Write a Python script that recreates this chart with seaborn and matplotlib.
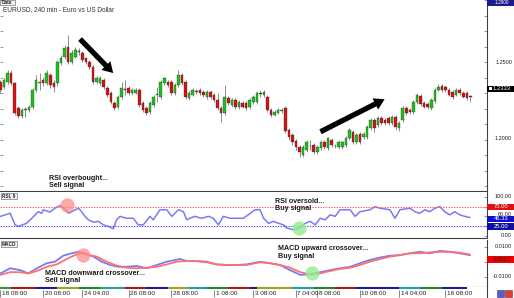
import numpy as np
import matplotlib
matplotlib.use("Agg")
import matplotlib.pyplot as plt
import matplotlib.patches as mpatches
import seaborn as sns

# ---------------- data ----------------
opens = [1.2371,1.2339,1.2371,1.2429,1.2365,1.2203,1.2152,1.2190,1.2190,1.2210,
         1.2319,1.2365,1.2384,1.2365,1.2416,1.2365,1.2365,1.2494,1.2532,1.2597,
         1.2500,1.2532,1.2571,1.2558,1.2526,1.2500,1.2468,1.2371,1.2365,1.2384,
         1.2332,1.2300,1.2235,1.2210,1.2274,1.2326,1.2332,1.2300,1.2300,1.2319,
         1.2235,1.2203,1.2177,1.2223,1.2287,1.2274,1.2365,1.2371,1.2371,1.2300,
         1.2352,1.2416,1.2371,1.2268,1.2287,1.2313,1.2319,1.2306,1.2274,1.2306,
         1.2287,1.2255,1.2203,1.2171,1.2268,1.2223,1.2255,1.2210,1.2235,1.2235,
         1.2210,1.2242,1.2242,1.2300,1.2287,1.2274,1.2190,1.2158,1.2171,1.2184,
         1.2203,1.2061,1.2029,1.1990,1.1952,1.1900,1.1932,1.1958,1.1965,1.1919,
         1.1945,1.1984,1.1945,1.1997,1.1958,1.1952,1.1952,1.1965,1.2010,1.2048,
         1.1984,1.2035,1.2016,1.2016,1.2074,1.2126,1.2094,1.2139,1.2126,1.2139,
         1.2106,1.2145,1.2074,1.2126,1.2203,1.2190,1.2177,1.2242,1.2281,1.2235,
         1.2229,1.2203,1.2248,1.2319,1.2345,1.2339,1.2319,1.2306,1.2287,1.2319,
         1.2300,1.2300,1.2281]
closes = [1.2319,1.2384,1.2429,1.2365,1.2171,1.2152,1.2190,1.2197,1.2210,1.2319,
          1.2384,1.2371,1.2365,1.2429,1.2352,1.2339,1.2500,1.2526,1.2590,1.2500,
          1.2558,1.2577,1.2565,1.2513,1.2500,1.2468,1.2371,1.2397,1.2397,1.2339,
          1.2287,1.2242,1.2203,1.2274,1.2332,1.2319,1.2300,1.2319,1.2319,1.2223,
          1.2190,1.2171,1.2235,1.2274,1.2294,1.2371,1.2397,1.2352,1.2300,1.2352,
          1.2416,1.2365,1.2274,1.2300,1.2319,1.2306,1.2300,1.2287,1.2306,1.2274,
          1.2255,1.2203,1.2171,1.2274,1.2235,1.2255,1.2210,1.2242,1.2210,1.2203,
          1.2255,1.2274,1.2300,1.2294,1.2306,1.2190,1.2158,1.2177,1.2190,1.2190,
          1.2055,1.2016,1.1984,1.1952,1.1919,1.1952,1.1984,1.1955,1.1919,1.1952,
          1.1984,1.1952,1.2010,1.1965,1.1960,1.1984,1.1984,1.2010,1.2061,1.1984,
          1.2029,1.1984,1.2035,1.2081,1.2126,1.2074,1.2139,1.2106,1.2106,1.2106,
          1.2145,1.2081,1.2106,1.2203,1.2171,1.2177,1.2242,1.2287,1.2229,1.2210,
          1.2210,1.2255,1.2319,1.2339,1.2319,1.2319,1.2287,1.2274,1.2319,1.2300,
          1.2274,1.2268,1.2274]
highs = [1.2384,1.2397,1.2448,1.2448,1.2371,1.2216,1.2203,1.2210,1.2223,1.2332,
         1.2416,1.2429,1.2403,1.2448,1.2429,1.2384,1.2513,1.2545,1.2610,1.2674,
         1.2577,1.2597,1.2590,1.2571,1.2532,1.2513,1.2481,1.2410,1.2410,1.2397,
         1.2345,1.2313,1.2248,1.2287,1.2371,1.2384,1.2345,1.2332,1.2332,1.2332,
         1.2248,1.2216,1.2248,1.2287,1.2339,1.2384,1.2403,1.2384,1.2384,1.2365,
         1.2448,1.2429,1.2384,1.2313,1.2332,1.2326,1.2332,1.2319,1.2319,1.2319,
         1.2300,1.2300,1.2216,1.2352,1.2281,1.2268,1.2268,1.2255,1.2248,1.2248,
         1.2268,1.2287,1.2313,1.2319,1.2319,1.2287,1.2203,1.2190,1.2203,1.2203,
         1.2216,1.2074,1.2042,1.2003,1.1965,1.1965,1.1997,1.1997,1.1977,1.1965,
         1.1997,1.1997,1.2016,1.2010,1.1971,1.1997,1.1990,1.2023,1.2074,1.2061,
         1.2042,1.2048,1.2048,1.2094,1.2139,1.2139,1.2152,1.2152,1.2139,1.2152,
         1.2158,1.2158,1.2119,1.2216,1.2216,1.2203,1.2255,1.2300,1.2294,1.2248,
         1.2242,1.2268,1.2332,1.2358,1.2358,1.2352,1.2332,1.2319,1.2332,1.2332,
         1.2313,1.2313,1.2287]
lows = [1.2300,1.2326,1.2358,1.2352,1.2158,1.2139,1.2139,1.2145,1.2177,1.2197,
        1.2306,1.2319,1.2345,1.2352,1.2332,1.2306,1.2345,1.2481,1.2519,1.2487,
        1.2487,1.2526,1.2545,1.2500,1.2487,1.2455,1.2358,1.2358,1.2352,1.2326,
        1.2274,1.2229,1.2190,1.2197,1.2261,1.2287,1.2287,1.2287,1.2294,1.2210,
        1.2177,1.2158,1.2165,1.2210,1.2242,1.2261,1.2352,1.2339,1.2287,1.2287,
        1.2339,1.2352,1.2261,1.2255,1.2281,1.2294,1.2287,1.2274,1.2261,1.2261,
        1.2242,1.2190,1.2113,1.2158,1.2223,1.2210,1.2197,1.2197,1.2203,1.2190,
        1.2197,1.2229,1.2229,1.2274,1.2274,1.2177,1.2145,1.2152,1.2165,1.2171,
        1.2042,1.1997,1.1965,1.1932,1.1887,1.1887,1.1919,1.1932,1.1906,1.1906,
        1.1932,1.1939,1.1932,1.1952,1.1945,1.1939,1.1939,1.1952,1.1997,1.1971,
        1.1971,1.1971,1.2003,1.2003,1.2061,1.2048,1.2081,1.2094,1.2094,1.2094,
        1.2094,1.2061,1.2055,1.2113,1.2158,1.2165,1.2165,1.2229,1.2216,1.2203,
        1.2197,1.2190,1.2235,1.2313,1.2306,1.2306,1.2281,1.2261,1.2281,1.2287,
        1.2268,1.2255,1.2242]

rsi_idx = [0, 2.7, 4.1, 5, 7.3, 8.8, 10.6, 11.6, 12, 13.9, 15.3, 16.7, 17.6, 19.1, 20,
           21.9, 22.8, 23.7, 24.7, 26.1, 27.5, 28.9, 30.3, 31.7, 32.6, 33.6, 35.4, 37.3,
           38.7, 40.1, 42, 42.9, 44.8, 46.7, 48.1, 50, 51.4, 52.3, 53.2, 54.6, 56.5, 58.4,
           59.8, 61.2, 62.6, 64.5, 66.3, 68.2, 69.6, 71.5, 72.9, 73.9, 75.3, 76.7, 78.1,
           79.5, 80.4, 82.3, 84.2, 85.6, 87, 88.4, 89.8, 91.2, 92.6, 94, 95.4, 98.2, 99.6,
           101, 103.8, 105.2, 106.6, 109.4, 110.8, 112.2, 115, 116.4, 117.8, 119.2, 120.6,
           122, 123.4, 124.8, 126.2, 127.6, 129, 130.4, 131.9]
rsi_val = [50, 58, 28, 24, 32, 45, 62, 58, 67, 61, 71, 78, 73, 58, 62,
           71, 62, 50, 41, 35, 37, 28, 24, 18, 41, 50, 45, 45,
           28, 28, 50, 41, 67, 67, 50, 67, 62, 41, 45, 50, 45, 50,
           45, 28, 50, 45, 45, 45, 54, 67, 67, 45, 32, 37, 32,
           28, 20, 15, 20, 32, 37, 28, 45, 41, 54, 50, 67, 67, 50,
           62, 67, 75, 71, 67, 45, 67, 71, 62, 58, 67, 62,
           71, 75, 62, 54, 62, 54, 50, 47]

macd_idx = [0, 2.7, 5.5, 7.8, 10.2, 13, 15.3, 17.6, 20, 21.9, 23.7, 26.1, 28.4, 30.8,
            33.1, 35.4, 38.2, 41.1, 43.9, 46.7, 50.4, 52.3, 55.1, 57.9, 60.7, 63.5, 66.3,
            69.1, 72.9, 75.7, 78.5, 81.3, 84.2, 87, 89.8, 92.6, 95.4, 98.2, 101, 103.8,
            106.6, 109.4, 112.2, 115, 117.8, 120.6, 123.4, 126.2, 129, 131.9]
macd_val = [-0.0078, -0.0044, -0.0056, -0.0078, -0.0044, -0.0010, 0.0000, 0.0040, 0.0056,
            0.0066, 0.0056, 0.0034, 0.0000, -0.0022, -0.0034, -0.0034, -0.0028, -0.0044,
            -0.0022, 0.0000, 0.0018, 0.0004, 0.0004, 0.0000, -0.0018, -0.0022, -0.0022,
            -0.0018, 0.0000, -0.0010, -0.0022, -0.0056, -0.0088, -0.0084, -0.0070, -0.0056,
            -0.0044, -0.0034, -0.0010, 0.0012, 0.0028, 0.0040, 0.0044, 0.0056, 0.0066,
            0.0056, 0.0072, 0.0066, 0.0056, 0.0044]
sig_idx = [0, 2.7, 5.5, 7.8, 10.2, 13, 15.8, 18.6, 20.9, 22.8, 24.2, 27, 29.8, 32.6,
           35.4, 38.2, 41.1, 43.9, 46.7, 49.5, 52.3, 55.1, 57.9, 60.7, 63.5, 66.3, 69.1,
           72.9, 75.7, 78.5, 81.3, 84.2, 87, 89.8, 92.6, 95.4, 98.2, 101, 103.8, 106.6,
           109.4, 112.2, 115, 117.8, 120.6, 123.4, 126.2, 129, 131.9]
sig_val = [-0.0088, -0.0070, -0.0070, -0.0078, -0.0062, -0.0034, -0.0018, 0.0018, 0.0044,
           0.0056, 0.0048, 0.0034, 0.0000, -0.0026, -0.0040, -0.0044, -0.0040, -0.0034,
           -0.0018, 0.0000, 0.0004, 0.0004, -0.0004, -0.0018, -0.0022, -0.0022, -0.0022,
           -0.0004, -0.0010, -0.0022, -0.0040, -0.0070, -0.0084, -0.0078, -0.0062, -0.0048,
           -0.0040, -0.0022, 0.0000, 0.0018, 0.0034, 0.0044, 0.0056, 0.0056, 0.0062,
           0.0066, 0.0066, 0.0060, 0.0048]

time_labels = ["18 08:00", "20 08:00", "24 04:00", "26 08:00", "28 08:00", "1 08:00",
               "3 08:00", "7 04:00", "8 08:00", "10 08:00", "14 04:00", "16 08:00"]
time_idx = [0, 12, 23, 36, 48, 60, 71, 83, 89, 101, 112, 125]

day_starts = [-1, 3, 10, 16, 22, 28, 35, 41, 47, 53, 58, 64, 70, 72, 82, 88, 94, 100, 112, 118, 124, 131]
day_colors = ["#2e9e2e", "#b01818", "#1c1c9c", "#a8a020", "#208a20", "#20a0a8", "#b01818",
              "#1c1c9c", "#a8a020", "#20a0a8", "#208a20", "#b01818", "#1c1c9c", "#a8a020",
              "#20a0a8", "#208a20", "#b01818", "#1c1c9c", "#20a0a8", "#208a20", "#1c1c9c"]

price_label = "1.2333"

# ---------------- figure ----------------
sns.set_style("white")
plt.rcParams["font.family"] = ["Liberation Sans", "DejaVu Sans"]

W, H = 514, 298
fig = plt.figure(figsize=(W / 100, H / 100), dpi=100)


def ax_px(x0, y0, x1, y1):
    return fig.add_axes([x0 / W, 1 - y1 / H, (x1 - x0) / W, (y1 - y0) / H])


XL = (-0.14, 136.66)
ax_p = ax_px(0, 0, 487, 191)
ax_r = ax_px(0, 192, 487, 238)
ax_m = ax_px(0, 240, 487, 287)
ax_t = ax_px(0, 287, 487, 298)

for ax in (ax_p, ax_r, ax_m, ax_t):
    ax.set_xlim(*XL)
    ax.set_facecolor("white")
    for s in ax.spines.values():
        s.set_visible(False)
    ax.set_xticks([])

# candles
idx = np.arange(len(opens))
o = np.array(opens); c = np.array(closes); hi = np.array(highs); lo = np.array(lows)
up = c > o + 0.00005
dn = c < o - 0.00005
col = np.where(up, "#19c519", np.where(dn, "#d81010", "#909090"))
ax_p.vlines(idx, lo, hi, color="#8c8c8c", lw=0.7, zorder=1)
body_lo = np.minimum(o, c)
body_h = np.maximum(np.abs(c - o), 0.00025)
ax_p.bar(idx, body_h, bottom=body_lo, width=0.72, color=col, edgecolor="#303030",
         linewidth=0.25, zorder=2)
ax_p.set_ylim(1.29 - 191 / 1550, 1.29)
ax_p.spines["right"].set_visible(True)
ax_p.spines["bottom"].set_visible(True)
for s in ("right", "bottom"):
    ax_p.spines[s].set_color("#404040")
    ax_p.spines[s].set_linewidth(0.8)
ax_p.set_yticks(np.arange(1.17, 1.2901, 0.01))
ax_p.yaxis.set_ticks_position("both")
ax_p.tick_params(axis="y", direction="in", length=2.5, width=0.5, color="#707070",
                 labelleft=False, labelright=False)

# arrows
arr_kw = dict(arrowstyle="simple,head_width=0.9,head_length=0.75,tail_width=0.38",
              mutation_scale=10, color="black", lw=0, zorder=5)
ax_p.add_patch(mpatches.FancyArrowPatch((21.8, 1.2661), (32.2, 1.2416), **arr_kw))
ax_p.add_patch(mpatches.FancyArrowPatch((89.2, 1.2042), (108.6, 1.2268), **arr_kw))

# RSI
sns.lineplot(x=rsi_idx, y=rsi_val, ax=ax_r, color="#7a7af5", lw=1.1, legend=False)
ax_r.axhline(75, color="#ff5a5a", lw=0.8, ls=(0, (1.2, 1.2)))
ax_r.axhline(25, color="#4b4bff", lw=0.8, ls=(0, (1.2, 1.2)))
ax_r.set_ylim(-(238 - 235.7) * 2.584, 100 + (197 - 192) * 2.584)
ax_r.scatter([18.7], [79], s=105, color="#ff8c8c", alpha=0.75, lw=0, zorder=4)
ax_r.scatter([83.8], [20], s=105, color="#90ee90", alpha=0.8, lw=0, zorder=4)
ax_r.set_yticks([0, 25, 50, 75, 100])

# MACD
sns.lineplot(x=macd_idx, y=macd_val, ax=ax_m, color="#7a7af5", lw=1.3, legend=False)
sns.lineplot(x=sig_idx, y=sig_val, ax=ax_m, color="#ff7070", lw=1.3, legend=False)
ax_m.set_ylim(-(287 - 261.7) * 0.000667, (261.7 - 240) * 0.000667)
ax_m.scatter([23.2], [0.0045], s=105, color="#ff8c8c", alpha=0.75, lw=0, zorder=4)
ax_m.scatter([87.5], [-0.0075], s=105, color="#90ee90", alpha=0.8, lw=0, zorder=4)
ax_m.set_yticks([-0.01, 0, 0.01])

for ax in (ax_r, ax_m):
    ax.spines["right"].set_visible(True)
    ax.spines["bottom"].set_visible(True)
    ax.spines["right"].set_color("#404040")
    ax.spines["bottom"].set_color("#404040")
    ax.spines["right"].set_linewidth(0.8)
    ax.spines["bottom"].set_linewidth(0.8)
    ax.yaxis.set_ticks_position("right")
    ax.tick_params(axis="y", direction="in", length=2.5, width=0.5, color="#707070",
                   labelright=False, labelleft=False)
    ax.set_ylabel("")

# time strip
ax_t.set_ylim(0, 11)
ax_t.set_yticks([])
for k in range(len(day_colors)):
    ax_t.add_patch(mpatches.Rectangle((day_starts[k], 8.6), day_starts[k + 1] - day_starts[k],
                                      2.4, color=day_colors[k], lw=0))
for lab, ti in zip(time_labels, time_idx):
    ax_t.vlines(ti, 1.0, 8.5, color="#555555", lw=0.5)
    ax_t.text(ti + 0.4, 4.3, lab, fontsize=4.6, color="#222222", va="center", ha="left")
ax_t.spines["right"].set_visible(True)
ax_t.spines["right"].set_color("#404040")
ax_t.spines["right"].set_linewidth(0.8)


# ---------- texts ----------
def ft(x, y, s, **kw):
    fig.text(x / W, 1 - y / H, s, **kw)


def box_label(x0, y0, x1, y1, text, fc, tc="white", fs=4.2):
    fig.patches.append(mpatches.Rectangle((x0 / W, 1 - y1 / H), (x1 - x0) / W, (y1 - y0) / H,
                                          transform=fig.transFigure, fc=fc, ec="none",
                                          figure=fig, zorder=3))
    ft((x0 + x1) / 2 + 1, (y0 + y1) / 2, text, fontsize=fs, color=tc, ha="center",
       va="center", zorder=4)


ft(3, 9.5, "EURUSD, 240 min - Euro vs US Dollar", fontsize=4.7, color="#333333", va="center")
fig.patches.append(mpatches.Rectangle((0, 1 - 5 / H), 15 / W, 5 / H, transform=fig.transFigure,
                                      fc="#f4f4f4", ec="#555555", lw=0.4, figure=fig))
ft(1.5, 2.8, "Data", fontsize=3.4, color="#222222", va="center", fontweight="bold")
for (yy, tag) in ((195.5, "RSI, 9"), (244, "MACD")):
    fig.patches.append(mpatches.Rectangle((1 / W, 1 - (yy + 3) / H), 16 / W, 6 / H,
                                          transform=fig.transFigure, fc="#f4f4f4",
                                          ec="#555555", lw=0.4, figure=fig))
    ft(2, yy, tag, fontsize=3.4, color="#222222", va="center", fontweight="bold")

bold = dict(fontsize=5.1, color="#1a1a1a", fontweight="bold", va="top", ha="left",
            linespacing=1.1)
ft(49, 174.5, "RSI overbought...\nSell signal", **bold)
ft(275, 198, "RSI oversold...\nBuy signal", **bold)
ft(45, 270, "MACD downward crossover...\nSell signal", **bold)
ft(278, 245, "MACD upward crossover...\nBuy signal", **bold)

# right side labels
lab = dict(fontsize=4.0, color="#222222", ha="right", va="center")
ft(512, 62, "1.2500", **lab)
ft(512, 139, "1.2000", **lab)
box_label(487, 85.5, 514, 92, price_label, "#000000")
fig.patches.append(mpatches.Rectangle((488.5 / W, 1 - 90.5 / H), 3 / W, 3 / H,
                                      transform=fig.transFigure, fc="white", ec="none",
                                      figure=fig, zorder=5))
box_label(487, 0, 514, 5.5, "1.2900", "#1c1c8c", fs=3.4)
ft(512, 197, "100.00", **lab)
box_label(487, 203.5, 514, 210, "75.00", "#e01010")
ft(512, 214.5, "60.00", **lab)
box_label(487, 216, 514, 222, "46.33", "#1010c8")
box_label(487, 223, 514, 229.5, "25.00", "#1010a0")
ft(512, 235.5, "0.00", **lab)
ft(512, 246.7, "0.0100", **lab)
box_label(487, 256, 514, 262.5, "0.0017", "#ee0000", tc="#222222")
ft(512, 276.7, "-0.0100", **lab)

# buttons bottom right
fig.patches.append(mpatches.Rectangle((497 / W, 1 - 297 / H), 7 / W, 7 / H,
                                      transform=fig.transFigure, fc="#5a5ac8", ec="#303080",
                                      lw=0.4, figure=fig))
fig.patches.append(mpatches.Rectangle((505 / W, 1 - 297 / H), 7 / W, 7 / H,
                                      transform=fig.transFigure, fc="#d84040", ec="#803030",
                                      lw=0.4, figure=fig))

fig.savefig("out.png", dpi=100)
